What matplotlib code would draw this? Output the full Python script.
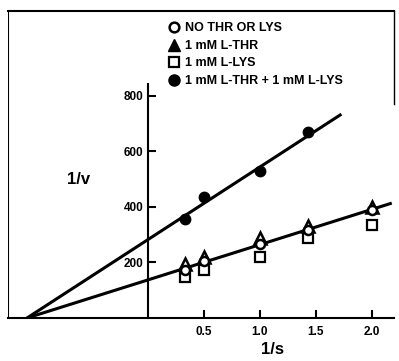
import matplotlib
matplotlib.use('Agg')
import matplotlib.pyplot as plt
from matplotlib.lines import Line2D
import numpy as np

plt.rcParams['font.family'] = ['Liberation Sans', 'DejaVu Sans']

# 1/[S] values
inv_s = [0.33, 0.5, 1.0, 1.43, 2.0]

# 1/v for each condition
none_vals = [174, 206, 268, 318, 390]
thr_vals = [195, 220, 289, 332, 401]
lys_vals = [148, 174, 220, 289, 336]
both_inv_s = [0.33, 0.5, 1.0, 1.43]
both_vals = [358, 437, 528, 669]

labels = ['NO THR OR LYS', '1 mM L-THR', '1 mM L-LYS', '1 mM L-THR + 1 mM L-LYS']

# fitted lines: common x-intercept, y-intercepts, x end of each line
x_intercept = -1.08
y_int_both = 282
y_int_single = 137
x_end_both = 1.73
x_end_single = 2.18

ytick_vals = [200, 400, 600, 800]
xtick_vals = [0.5, 1.0, 1.5, 2.0]

fig = plt.figure(figsize=(3.99, 3.61), dpi=100)
ax = fig.add_axes([8/399, 43/361, 386/399, 307/361])
ax.set_xlim(-1.25, 2.20)
ax.set_ylim(0, 1105)

# fitted lines
for y0, xe in [(y_int_both, x_end_both), (y_int_single, x_end_single)]:
    slope = -y0 / x_intercept
    xs = np.array([x_intercept, xe])
    ax.plot(xs, y0 + slope * xs, color='black', lw=2.2, solid_capstyle='butt')

ax.plot(inv_s, thr_vals, '^', ms=8, mfc='white', mec='black', mew=1.8, ls='none')
ax.plot(inv_s, lys_vals, 's', ms=6.5, mfc='white', mec='black', mew=1.6, ls='none')
ax.plot(inv_s, none_vals, 'o', ms=6.5, mfc='white', mec='black', mew=1.8, ls='none')
ax.plot(both_inv_s, both_vals, 'o', ms=7.5, color='black', ls='none')

# axis through zero with inward ticks, outer frame as box
ax.spines['left'].set_position(('data', 0))
ax.spines['left'].set_bounds(0, 843)
ax.spines['left'].set_linewidth(1.5)
for s in ['top', 'bottom']:
    ax.spines[s].set_linewidth(1.5)
ax.spines['right'].set_linewidth(1.0)
ax.spines['right'].set_bounds(770, 1105)
ax.add_line(Line2D([0, 0], [0, 1], transform=ax.transAxes, color='black', lw=1.5))

ax.set_yticks(ytick_vals)
ax.set_yticklabels([str(v) for v in ytick_vals])
ax.set_xticks(xtick_vals)
ax.set_xticklabels([f'{v:.1f}' for v in xtick_vals])
ax.tick_params(axis='y', direction='in', length=6, width=1.5, pad=3, labelsize=8.5)
ax.tick_params(axis='x', direction='in', length=6, width=1.5, pad=6, labelsize=8.5)
for t in ax.get_xticklabels() + ax.get_yticklabels():
    t.set_fontweight('bold')

ax.text(-0.62, 500, '1/v', fontsize=12, fontweight='bold', ha='center', va='center')
fig.text(273/399, 1 - 350/361, '1/s', fontsize=12, fontweight='bold', ha='center', va='center')

handles = [
    Line2D([], [], marker='o', ms=7, mfc='white', mec='black', mew=1.8, ls='none'),
    Line2D([], [], marker='^', ms=8.5, mfc='black', mec='black', ls='none'),
    Line2D([], [], marker='s', ms=7, mfc='white', mec='black', mew=1.6, ls='none'),
    Line2D([], [], marker='o', ms=8, color='black', ls='none'),
]
ax.legend(handles, labels, loc='upper left', bbox_to_anchor=(154/399, 1 - 11/361),
          bbox_transform=fig.transFigure, frameon=False,
          handletextpad=0.2, labelspacing=0.45, handlelength=1.4,
          prop={'weight': 'bold', 'size': 9})

fig.savefig('out.png', dpi=100)
